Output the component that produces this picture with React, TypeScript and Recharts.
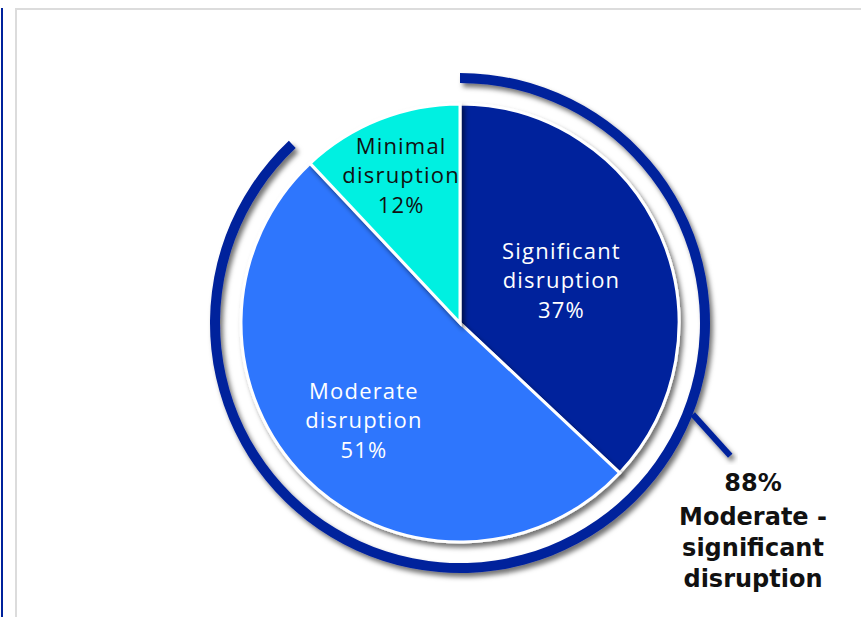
import { PieChart, Pie, Cell } from 'recharts';

// slice categories and shares (%), clockwise from 12 o'clock
const categories = ['Significant disruption', 'Moderate disruption', 'Minimal disruption'];
const shares = [37, 51, 12];
const sliceColors = ['#00229c', '#2f76fd', '#03f0e1'];

// outer highlight arc: moderate + significant
const arcLabel = ['88%', 'Moderate -', 'significant', 'disruption'];
const arcShares = [88, 12];

const pieData = categories.map((name, i) => ({ name, value: shares[i] }));
const arcData = arcShares.map((value, i) => ({ name: i === 0 ? 'highlight' : 'rest', value }));

// how far out (fraction of radius) each slice label sits
const labelRadius: Record<string, number> = {
  'Significant disruption': 0.505,
  'Moderate disruption': 0.62,
  'Minimal disruption': 0.73,
};

const RAD = Math.PI / 180;
const FONT = '"Open Sans", sans-serif';

const renderSliceLabel = (props: any) => {
  const { cx, cy, midAngle, outerRadius, name, value, index } = props;
  const r = outerRadius * (labelRadius[name] ?? 0.6);
  const x = cx + r * Math.cos(-midAngle * RAD);
  const y = cy + r * Math.sin(-midAngle * RAD);
  const words = name.split(' ');
  const lines = [...words, `${value}%`];
  const fill = index === 2 ? '#111' : '#fff';
  return (
    <text
      x={x}
      y={y}
      textAnchor="middle"
      dominantBaseline="central"
      fill={fill}
      style={{ fontFamily: FONT, fontSize: 22, fontWeight: 400, letterSpacing: 1.2 }}
    >
      {lines.map((l, i) => (
        <tspan key={i} x={x} y={y + (i - 1) * 29.5}>
          {l}
        </tspan>
      ))}
    </text>
  );
};

const renderArcLabel = (props: any) => {
  const { cx, cy, outerRadius, index } = props;
  if (index !== 0) return null;
  const a0 = -21.4 * RAD;
  const x1 = cx + outerRadius * Math.cos(a0);
  const y1 = cy - outerRadius * Math.sin(a0);
  const a1 = -48 * RAD;
  const x2 = x1 + 56 * Math.cos(a1);
  const y2 = y1 - 56 * Math.sin(a1);
  const tx = cx + 293;
  const ty = cy + 160;
  const offs = [0, 34, 65, 96];
  return (
    <g>
      <defs>
        <filter id="softShadow" x="-20%" y="-20%" width="140%" height="140%">
          <feDropShadow dx="3" dy="4" stdDeviation="2.5" floodColor="#000" floodOpacity="0.55" />
        </filter>
      </defs>
      <line x1={x1} y1={y1} x2={x2} y2={y2} stroke="#00229c" strokeWidth={6} style={{ filter: 'url(#softShadow)' }} />
      <text
        textAnchor="middle"
        dominantBaseline="central"
        fill="#111"
        style={{ fontFamily: '"DejaVu Sans", sans-serif', fontSize: 24, fontWeight: 700 }}
      >
        {arcLabel.map((l, i) => (
          <tspan key={i} x={tx} y={ty + offs[i]}>
            {l}
          </tspan>
        ))}
      </text>
    </g>
  );
};

export default function App() {
  return (
    <div style={{ position: 'absolute', left: 0, top: 0, width: 861, height: 617, background: '#fff', overflow: 'hidden' }}>
      <style>{`
        .shadowed .recharts-sector { filter: url(#softShadow); }
      `}</style>
      <div style={{ position: 'absolute', left: 1, top: 8, width: 2, height: 609, background: '#00229c' }} />
      <div
        style={{
          position: 'absolute',
          left: 15,
          top: 8,
          width: 846,
          height: 609,
          borderLeft: '2px solid #dcdcdc',
          borderTop: '2px solid #dcdcdc',
          boxSizing: 'border-box',
        }}
      />
      <div style={{ position: 'absolute', left: 0, top: 0 }}>
        <PieChart width={861} height={617} margin={{ top: 0, right: 0, bottom: 0, left: 0 }}>
          <Pie
            data={arcData}
            dataKey="value"
            className="shadowed"
            cx={460}
            cy={323}
            innerRadius={240}
            outerRadius={250}
            startAngle={90}
            endAngle={-270}
            stroke="none"
            label={renderArcLabel}
            labelLine={false}
            isAnimationActive={false}
          >
            {arcData.map((d, i) => (
              <Cell key={d.name} fill={i === 0 ? '#00229c' : 'transparent'} />
            ))}
          </Pie>
          <Pie
            data={pieData}
            dataKey="value"
            className="shadowed"
            cx={460}
            cy={323}
            outerRadius={219}
            startAngle={90}
            endAngle={-270}
            stroke="#fff"
            strokeWidth={3}
            label={renderSliceLabel}
            labelLine={false}
            isAnimationActive={false}
          >
            {pieData.map((d, i) => (
              <Cell key={d.name} fill={sliceColors[i]} />
            ))}
          </Pie>
        </PieChart>
      </div>
    </div>
  );
}
